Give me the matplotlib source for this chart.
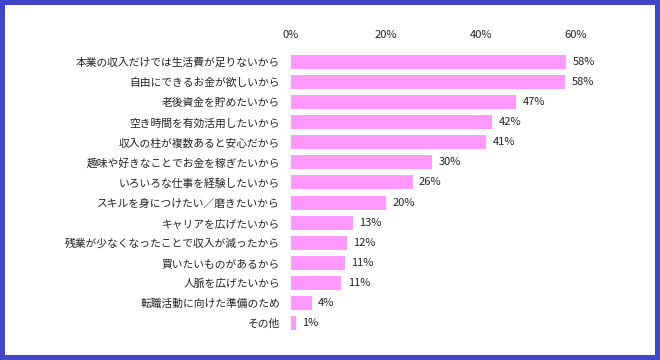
import matplotlib
matplotlib.use("Agg")
import matplotlib.pyplot as plt
from matplotlib.patches import Rectangle

plt.rcParams['font.family'] = ['Noto Sans CJK JP', 'DejaVu Sans']

categories = [
    "本業の収入だけでは生活費が足りないから",
    "自由にできるお金が欲しいから",
    "老後資金を貯めたいから",
    "空き時間を有効活用したいから",
    "収入の柱が複数あると安心だから",
    "趣味や好きなことでお金を稼ぎたいから",
    "いろいろな仕事を経験したいから",
    "スキルを身につけたい／磨きたいから",
    "キャリアを広げたいから",
    "残業が少なくなったことで収入が減ったから",
    "買いたいものがあるから",
    "人脈を広げたいから",
    "転職活動に向けた準備のため",
    "その他",
]
values = [57.9, 57.7, 47.4, 42.4, 41.1, 29.7, 25.6, 20.1, 13.0, 11.8, 11.4, 10.6, 4.4, 1.0]
tick_values = [0, 20, 40, 60]
tick_labels = ["0%", "20%", "40%", "60%"]

W, H = 660, 360
fig = plt.figure(figsize=(W / 100, H / 100), dpi=100)
fig.patch.set_facecolor('#4146C8')
fig.patches.append(Rectangle((5 / W, 5 / H), (W - 10) / W, (H - 10) / H,
                             transform=fig.transFigure, facecolor='white',
                             edgecolor='none', zorder=-10))

left = 291 / W
right = (291 + 70 * 4.75) / W
top = 1 - 52 / H
bottom = 1 - 333 / H
ax = fig.add_axes([left, bottom, right - left, top - bottom])
ax.set_facecolor('none')

y = list(range(len(categories)))
ax.barh(y, values, height=0.7, color='#FF99FF')
for yi, v in zip(y, values):
    ax.annotate(f"{v:.0f}%", (v, yi), xytext=(4.5, 0), textcoords='offset points',
                va='center', ha='left', fontsize=8, color='#222222')

ax.set_xlim(0, 70)
ax.set_ylim(len(categories) - 0.5, -0.5)
ax.set_yticks(y)
ax.set_yticklabels(categories, fontsize=7.75, color='#222222')
ax.set_xticks(tick_values)
ax.set_xticklabels(tick_labels, fontsize=8, color='#222222')
ax.xaxis.tick_top()
ax.tick_params(axis='x', length=0, pad=9)
ax.tick_params(axis='y', length=0, pad=8)
for s in ax.spines.values():
    s.set_visible(False)

fig.savefig('out.png', dpi=100, facecolor=fig.get_facecolor())
